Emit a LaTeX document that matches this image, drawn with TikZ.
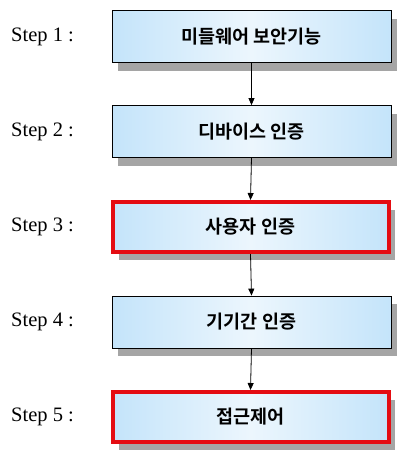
\documentclass[tikz,border=0pt]{standalone}
\usepackage{fontspec}
\setmainfont{Liberation Serif}
\newfontfamily\kor{Noto Sans CJK KR}[BoldFont={* Bold}]
\usetikzlibrary{arrows.meta,shadows}
\definecolor{boxblue}{RGB}{196,228,250}
\definecolor{boxlight}{RGB}{236,246,253}
\definecolor{redline}{RGB}{228,12,18}
\definecolor{shadowgray}{RGB}{165,165,165}
\tikzset{
  stepbox/.style={rectangle, draw=black, line width=0.8pt, minimum width=279pt, minimum height=52pt,
    left color=boxblue, right color=boxblue, middle color=boxlight,
    font=\kor\bfseries\fontsize{18.5}{20}\selectfont,
    drop shadow={shadow xshift=6pt, shadow yshift=-8pt, fill=shadowgray, opacity=1}},
  redbox/.style={stepbox, draw=redline, line width=4pt, minimum width=276pt, minimum height=50pt},
  steplabel/.style={anchor=west, inner sep=0pt, font=\fontsize{20.5}{22}\selectfont},
  conn/.style={-{Triangle[length=7pt,width=6pt]}, line width=0.8pt}
}
\begin{document}
\begin{tikzpicture}[x=1pt,y=-1pt]
\useasboundingbox (0,0) rectangle (398,453);
\node[stepbox] (b1) at (251.5,36.5) {미들웨어 보안기능};
\node[stepbox] (b2) at (251.5,131.5) {디바이스 인증};
\node[redbox]  (b3) at (250.5,227) {사용자 인증};
\node[stepbox] (b4) at (251.5,322) {기기간 인증};
\node[redbox]  (b5) at (250.5,417) {접근제어};
\node[steplabel] (l1) at (11,37) {Step 1 :};
\node[steplabel] (l2) at (11,132) {Step 2 :};
\node[steplabel] (l3) at (11,227) {Step 3 :};
\node[steplabel] (l4) at (11,322) {Step 4 :};
\node[steplabel] (l5) at (11,417) {Step 5 :};
\draw[conn] (b1.south) -- (b2.north);
\draw[conn] (b2.south) -- (b3.north);
\draw[conn] (b3.south) -- (b4.north);
\draw[conn] (b4.south) -- (b5.north);
\end{tikzpicture}
\end{document}
